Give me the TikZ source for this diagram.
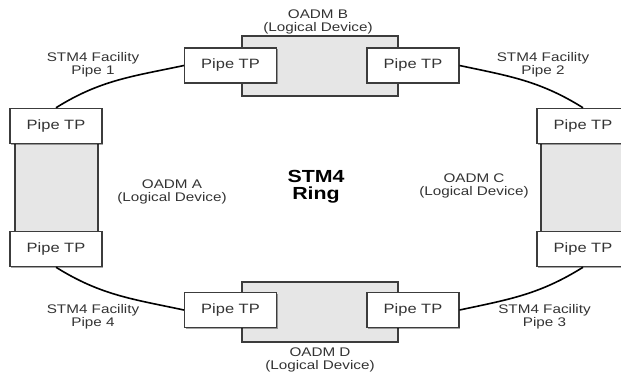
\documentclass[tikz,border=0pt]{standalone}
\usepackage{fontspec}
\setmainfont{Liberation Sans}[FakeStretch=1.22]
\usetikzlibrary{shadows}
\definecolor{edgecol}{HTML}{3C3C3C}
\definecolor{devfill}{HTML}{E6E6E6}
\definecolor{txtcol}{HTML}{333333}
\begin{document}
\begin{tikzpicture}[x=1pt,y=-1pt,
  sh/.style={drop shadow={shadow xshift=1.4pt,shadow yshift=-1.4pt,opacity=0.35,fill=black}},
  device/.style={draw=edgecol, line width=1.1pt, fill=devfill, inner sep=0pt, sh},
  tp/.style={draw=edgecol, line width=1.1pt, fill=white, inner sep=0pt,
    minimum width=92pt, minimum height=35pt,
    font=\fontsize{13.5}{15}\selectfont, text=txtcol, sh},
  lbl/.style={align=center, inner sep=0pt, font=\fontsize{12.5}{13}\selectfont, text=txtcol},
  ring/.style={align=center, inner sep=0pt, font=\fontsize{17.5}{17}\selectfont\bfseries, text=black},
  pipe/.style={line width=1.6pt, black}]
\useasboundingbox (0,0) rectangle (621,375);
\clip (0,0) rectangle (621,375);

% logical devices
\node[device, minimum width=156pt, minimum height=60pt] (devB) at (320,66) {};
\node[device, minimum width=156pt, minimum height=60pt] (devD) at (320,312) {};
\node[device, minimum width=83pt, minimum height=89pt] (devA) at (56.5,187.5) {};
\node[device, minimum width=83pt, minimum height=89pt] (devC) at (582.5,187.5) {};

% pipe termination points
\node[tp] (b1) at (230.5,65.5) {Pipe TP};
\node[tp] (b2) at (413,65.5) {Pipe TP};
\node[tp] (d1) at (230.5,310) {Pipe TP};
\node[tp] (d2) at (413,310) {Pipe TP};
\node[tp] (a1) at (56,125.8) {Pipe TP};
\node[tp] (a2) at (56,249.2) {Pipe TP};
\node[tp] (c1) at (583,125.8) {Pipe TP};
\node[tp] (c2) at (583,249.2) {Pipe TP};

% facility pipes
\draw[pipe] (a1.north) to[out=32,in=192] (b1.west);
\draw[pipe] (b2.east) to[out=-12,in=148] (c1.north);
\draw[pipe] (a2.south) to[out=-32,in=168] (d1.west);
\draw[pipe] (d2.east) to[out=12,in=212] (c2.south);

% labels
\node[lbl] (lB) at (318,21.5) {OADM B\\(Logical Device)};
\node[lbl] (lD) at (320,360) {OADM D\\(Logical Device)};
\node[lbl] (lA) at (172,191.5) {OADM A\\(Logical Device)};
\node[lbl] (lC) at (474,185.5) {OADM C\\(Logical Device)};
\node[lbl] (p1) at (93,64.5) {STM4 Facility\\Pipe 1};
\node[lbl] (p2) at (543,64.5) {STM4 Facility\\Pipe 2};
\node[lbl] (p4) at (93,317) {STM4 Facility\\Pipe 4};
\node[lbl] (p3) at (544.5,317) {STM4 Facility\\Pipe 3};
\node[ring] (rg) at (316,187) {STM4\\Ring};
\end{tikzpicture}
\end{document}
